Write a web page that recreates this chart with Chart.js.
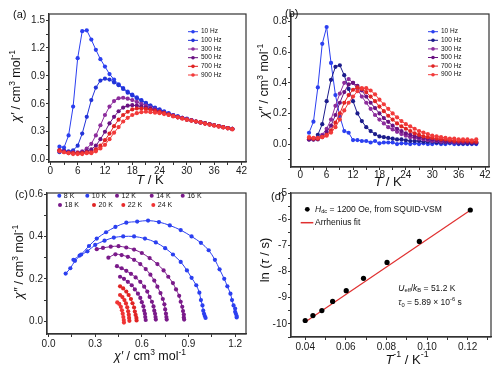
<!DOCTYPE html>
<html>
<head>
<meta charset="utf-8">
<title>ac susceptibility</title>
<script src="https://cdn.jsdelivr.net/npm/chart.js@4.4.1/dist/chart.umd.min.js"></script>
<style>
  body { margin: 0; background: #fff; }
  #fig { position: relative; width: 500px; height: 371px; overflow: hidden; }
  .panel { position: absolute; }
</style>
</head>
<body>
<div id="fig">
  <div class="panel" style="left:0;top:0;width:250px;height:186px"><canvas id="graficaA"></canvas></div>
  <div class="panel" style="left:250px;top:0;width:250px;height:186px"><canvas id="graficaB"></canvas></div>
  <div class="panel" style="left:0;top:186px;width:250px;height:185px"><canvas id="graficaC"></canvas></div>
  <div class="panel" style="left:250px;top:186px;width:250px;height:185px"><canvas id="graficaD"></canvas></div>
</div>
<script>
// temperaturas (K) de las medidas ac
const temps = [2,3,4,5,6,7,8,9,10,11,12,13,14,15,16,17,18,19,20,21,22,23,24,25,26,27,28,29,30,31,32,33,34,35,36,37,38,39,40];
const freqLabels = ['10 Hz', '100 Hz', '300 Hz', '500 Hz', '700 Hz', '900 Hz'];

// chi' (a)
const chiP10  = [0.14,0.13,0.26,0.57,1.09,1.38,1.39,1.29,1.18, 1.08,1.00,0.92,0.86,0.81,0.77,0.73,0.70,0.67,0.64, 0.61,0.58,0.56,0.54,0.52,0.50,0.48,0.465,0.45,0.44, 0.425,0.41,0.40,0.39,0.38,0.37,0.36,0.35,0.34,0.33];
const chiP100 = [0.08,0.10,0.09,0.10,0.15,0.28,0.46,0.64,0.775, 0.85,0.87,0.86,0.83,0.80,0.76,0.72,0.69,0.66,0.635, 0.605,0.58,0.555,0.535,0.515,0.495,0.48,0.465,0.45,0.435, 0.425,0.41,0.40,0.39,0.38,0.37,0.36,0.35,0.34,0.33];
const chiP300 = [0.10,0.09,0.08,0.08,0.08,0.09,0.12,0.17,0.26, 0.37,0.48,0.57,0.63,0.66,0.665,0.655,0.64,0.62,0.60, 0.58,0.56,0.54,0.52,0.505,0.49,0.475,0.46,0.45,0.435, 0.425,0.41,0.40,0.39,0.38,0.37,0.36,0.35,0.34,0.33];
const chiP500 = [0.10,0.09,0.08,0.07,0.07,0.08,0.09,0.11,0.15, 0.22,0.30,0.39,0.46,0.52,0.56,0.58,0.585,0.58,0.57, 0.56,0.545,0.53,0.515,0.50,0.485,0.47,0.455,0.445,0.43, 0.42,0.41,0.40,0.39,0.38,0.37,0.36,0.35,0.34,0.33];
const chiP700 = [0.10,0.08,0.07,0.07,0.07,0.07,0.08,0.08,0.11, 0.15,0.21,0.28,0.36,0.43,0.48,0.515,0.54,0.55,0.55, 0.545,0.535,0.525,0.51,0.50,0.485,0.47,0.455,0.445,0.43, 0.42,0.41,0.40,0.39,0.38,0.37,0.36,0.35,0.34,0.33];
const chiP900 = [0.09,0.08,0.07,0.06,0.06,0.06,0.07,0.07,0.09, 0.12,0.16,0.22,0.29,0.35,0.41,0.45,0.48,0.50,0.51, 0.515,0.51,0.505,0.50,0.49,0.48,0.465,0.455,0.44,0.43, 0.42,0.41,0.40,0.385,0.375,0.365,0.355,0.345,0.335,0.325];

// chi'' (b)
const chiPP10  = [0.074,0.146,0.37,0.655,0.765,0.53,0.32,0.18,0.085, 0.074,0.026,0.026,0.02,0.02,0.01,0.02,0.005,0.01,0.01, 0.01,0.0,0.005,0.005,0.0,0.005,0.0,0.005,0.0,0.0, 0.005,0.0,0.0,0.005,0.0,0.0,0.0,0.0,0.0,0.0];
const chiPP100 = [0.03,0.03,0.06,0.13,0.28,0.42,0.505,0.515,0.45, 0.36,0.28,0.20,0.15,0.11,0.085,0.065,0.05,0.045,0.04, 0.035,0.03,0.03,0.025,0.02,0.02,0.02,0.015,0.015,0.015, 0.01,0.01,0.01,0.01,0.01,0.005,0.005,0.005,0.005,0.005];
const chiPP300 = [0.03,0.03,0.04,0.06,0.10,0.16,0.25,0.33,0.40, 0.425,0.40,0.36,0.31,0.27,0.23,0.19,0.16,0.135,0.11, 0.095,0.08,0.065,0.055,0.045,0.04,0.035,0.03,0.025,0.02, 0.02,0.015,0.015,0.015,0.01,0.01,0.01,0.01,0.01,0.01];
const chiPP500 = [0.03,0.03,0.03,0.05,0.08,0.12,0.19,0.27,0.34, 0.39,0.40,0.38,0.35,0.31,0.27,0.235,0.20,0.17,0.145, 0.12,0.10,0.085,0.07,0.06,0.05,0.045,0.04,0.035,0.03, 0.025,0.025,0.02,0.02,0.015,0.015,0.015,0.01,0.01,0.01];
const chiPP700 = [0.04,0.035,0.035,0.045,0.06,0.09,0.14,0.20,0.27, 0.32,0.355,0.37,0.36,0.34,0.31,0.28,0.245,0.215,0.185, 0.16,0.135,0.115,0.10,0.085,0.07,0.06,0.05,0.045,0.04, 0.035,0.03,0.03,0.025,0.02,0.02,0.02,0.02,0.015,0.015];
const chiPP900 = [0.045,0.04,0.04,0.045,0.055,0.075,0.11,0.16,0.22, 0.27,0.31,0.345,0.365,0.365,0.35,0.325,0.29,0.26,0.23, 0.20,0.175,0.15,0.13,0.115,0.10,0.085,0.075,0.065,0.055, 0.05,0.045,0.04,0.035,0.035,0.03,0.03,0.03,0.025,0.03];

// Cole-Cole (c): [chi', chi'']
const coleLabels = ['8 K', '10 K', '12 K', '14 K', '16 K', '18 K', '20 K', '22 K', '24 K'];
const cole8K  = [[0.11,0.225],[0.14,0.25],[0.17,0.285],[0.21,0.315],[0.26,0.355],[0.31,0.39],[0.37,0.42],[0.43,0.445],[0.50,0.465],[0.57,0.47],[0.64,0.475],[0.71,0.468],[0.78,0.452],[0.85,0.43],[0.92,0.40],[0.98,0.37],[1.03,0.335],[1.07,0.29],[1.10,0.245],[1.13,0.20],[1.15,0.165],[1.17,0.13],[1.18,0.10],[1.19,0.075],[1.20,0.06],[1.20,0.045],[1.205,0.035],[1.21,0.025],[1.21,0.018]];
const cole10K = [[0.16,0.29],[0.20,0.31],[0.25,0.33],[0.30,0.36],[0.36,0.38],[0.42,0.395],[0.48,0.40],[0.55,0.40],[0.62,0.39],[0.69,0.372],[0.75,0.345],[0.80,0.315],[0.85,0.28],[0.89,0.24],[0.92,0.205],[0.95,0.17],[0.97,0.135],[0.98,0.10],[0.99,0.075],[0.995,0.05],[1.0,0.035],[1.005,0.025],[1.01,0.016]];
const cole12K = [[0.31,0.34],[0.35,0.346],[0.40,0.352],[0.45,0.354],[0.50,0.348],[0.55,0.338],[0.60,0.322],[0.65,0.298],[0.70,0.27],[0.74,0.24],[0.77,0.21],[0.80,0.18],[0.82,0.15],[0.84,0.12],[0.85,0.092],[0.86,0.068],[0.865,0.048],[0.87,0.032],[0.87,0.018],[0.872,0.008]];
const cole14K = [[0.385,0.30],[0.43,0.316],[0.47,0.312],[0.51,0.304],[0.55,0.29],[0.59,0.27],[0.625,0.246],[0.655,0.22],[0.68,0.192],[0.70,0.163],[0.72,0.133],[0.735,0.105],[0.745,0.08],[0.75,0.056],[0.755,0.036],[0.758,0.02],[0.76,0.008]];
const cole16K = [[0.44,0.26],[0.47,0.25],[0.50,0.238],[0.53,0.224],[0.56,0.207],[0.59,0.186],[0.615,0.163],[0.635,0.14],[0.65,0.115],[0.665,0.092],[0.675,0.07],[0.68,0.05],[0.685,0.035],[0.688,0.02],[0.69,0.008]];
const cole18K = [[0.46,0.21],[0.485,0.20],[0.51,0.186],[0.535,0.17],[0.555,0.15],[0.575,0.13],[0.59,0.11],[0.60,0.09],[0.61,0.07],[0.615,0.05],[0.62,0.035],[0.622,0.02],[0.625,0.006]];
const cole20K = [[0.46,0.165],[0.48,0.155],[0.50,0.14],[0.515,0.124],[0.53,0.105],[0.54,0.085],[0.55,0.065],[0.555,0.046],[0.56,0.03],[0.565,0.016],[0.566,0.004]];
const cole22K = [[0.46,0.124],[0.475,0.114],[0.488,0.10],[0.498,0.084],[0.506,0.066],[0.512,0.047],[0.516,0.031],[0.518,0.016],[0.52,0.002]];
const cole24K = [[0.442,0.089],[0.455,0.082],[0.465,0.068],[0.472,0.052],[0.477,0.036],[0.481,0.02],[0.484,0.006],[0.485,-0.006]];

// Arrhenius (d)
const invT = [0.040, 0.0438, 0.0482, 0.0535, 0.0602, 0.0687, 0.0803, 0.0962, 0.1213];
const lnTau = [-9.87, -9.68, -9.49, -9.14, -8.73, -8.26, -7.65, -6.85, -5.65];
const fitInvT = [0.040, 0.1213];
const fitLnTau = [-9.93, -5.66];

// ticks
const aTempTicks = [0, 6, 12, 18, 24, 30, 36, 42];
const aChiTicks = [0, 0.3, 0.6, 0.9, 1.2, 1.5];
const bChiTicks = [0, 0.2, 0.4, 0.6, 0.8];
const cXTicks = [0, 0.3, 0.6, 0.9, 1.2];
const cYTicks = [0, 0.2, 0.4, 0.6];
const dXTicks = [0.04, 0.06, 0.08, 0.10, 0.12];
const dYTicks = [-10, -9, -8, -7, -6, -5];

const FONT = '"Liberation Sans", Arial, Helvetica, sans-serif';
const colFrecA = ['#2b3ff0', '#2233d8', '#8c2c9c', '#6a1282', '#e02424', '#f23a3a'];
const colFrecB = ['#2b3ff0', '#1c1c8c', '#8c2c9c', '#6a1282', '#e02424', '#f23a3a'];
const colCole = ['#2b3ff0', '#2b3ff0', '#7a1a8a', '#7a1a8a', '#7a1a8a', '#7a1a8a', '#e02424', '#e82c2c', '#f03434'];

function eje(pos, min, max, majors, digits, size, pad) {
	const step = majors[1] - majors[0];
	const marks = [];
	for (let i = 0; i < majors.length; i++) {
		marks.push(majors[i]);
		if (i < majors.length - 1) marks.push(majors[i] + step / 2);
	}
	if (majors[0] - step / 2 >= min - 1e-9) marks.unshift(majors[0] - step / 2);
	if (majors[majors.length - 1] + step / 2 <= max + 1e-9) marks.push(majors[majors.length - 1] + step / 2);
	return {
		type: 'linear', position: pos, min: min, max: max,
		afterBuildTicks: s => { s.ticks = marks.map(v => ({ value: v })); },
		afterFit: s => { if (pos === 'left') s.width = size; else s.height = size; },
		ticks: {
			autoSkip: false, maxRotation: 0, padding: pad === undefined ? 1 : pad, color: '#1a1a1a',
			font: { family: FONT, size: 10 },
			callback: v => majors.some(m => Math.abs(m - v) < 1e-9) ? v.toFixed(digits) : ''
		},
		grid: { drawOnChartArea: false, drawTicks: true, tickLength: 3, color: '#333', lineWidth: 1 },
		border: { display: true, color: '#333', width: 1.2 }
	};
}

// texto con cursiva, super y subindices: [texto, 'i^_']
function texto(ctx, parts, x, y, size, rot, align) {
	ctx.save();
	ctx.translate(x, y);
	if (rot) ctx.rotate(-Math.PI / 2);
	ctx.fillStyle = '#111';
	ctx.textBaseline = 'middle';
	ctx.textAlign = 'left';
	const f = p => {
		const fl = p[1] || '';
		return (fl.includes('i') ? 'italic ' : '') + (/[\^_]/.test(fl) ? size * 0.68 : size) + 'px ' + FONT;
	};
	let w = 0;
	parts.forEach(p => { ctx.font = f(p); w += ctx.measureText(p[0]).width; });
	let cx = align === 'left' ? 0 : -w / 2;
	parts.forEach(p => {
		const fl = p[1] || '';
		ctx.font = f(p);
		const dy = fl.includes('^') ? -size * 0.38 : fl.includes('_') ? size * 0.3 : 0;
		ctx.fillText(p[0], cx, dy);
		cx += ctx.measureText(p[0]).width;
	});
	ctx.restore();
}

function leyendaFrec(ctx, chart, x0, x1, xt, y0, dy) {
	chart.data.datasets.forEach((ds, i) => {
		const y = y0 + i * dy;
		ctx.strokeStyle = ds.borderColor;
		ctx.lineWidth = 1;
		ctx.beginPath(); ctx.moveTo(x0, y); ctx.lineTo(x1, y); ctx.stroke();
		ctx.fillStyle = ds.borderColor;
		ctx.beginPath(); ctx.arc((x0 + x1) / 2, y, 1.8, 0, Math.PI * 2); ctx.fill();
		texto(ctx, [[ds.label]], xt, y, 6.5, false, 'left');
	});
}

function grafica(id, datasets, scales, pad, dibujar) {
	return new Chart(document.getElementById(id), {
		type: 'scatter',
		data: { datasets: datasets },
		options: {
			responsive: true, maintainAspectRatio: false, animation: false, events: [],
			layout: { padding: pad },
			scales: scales,
			plugins: { legend: { display: false }, tooltip: { enabled: false } }
		},
		plugins: [{
			id: 'marco',
			afterDraw(chart) {
				const ctx = chart.ctx, a = chart.chartArea;
				ctx.save();
				ctx.strokeStyle = '#333';
				ctx.lineWidth = 1.2;
				ctx.strokeRect(a.left, a.top, a.right - a.left, a.bottom - a.top);
				dibujar(ctx, chart);
				ctx.restore();
			}
		}]
	});
}

function seriesFrec(lista, colores) {
	return lista.map((arr, i) => ({
		label: freqLabels[i],
		data: temps.map((t, j) => ({ x: t, y: arr[j] })),
		borderColor: colores[i], backgroundColor: colores[i],
		borderWidth: 1, pointRadius: 2.1, pointBorderWidth: 0,
		showLine: true, order: -i
	}));
}

// (a) chi'
grafica('graficaA',
	seriesFrec([chiP10, chiP100, chiP300, chiP500, chiP700, chiP900], colFrecA),
	{ x: eje('bottom', -0.3, 43, aTempTicks, 0, 24, 0), y: eje('left', -0.025, 1.565, aChiTicks, 1, 49) },
	{ top: 14, right: 2, left: 0, bottom: 0 },
	(ctx, chart) => {
		texto(ctx, [['(a)']], 13, 15, 11, false, 'left');
		texto(ctx, [['T', 'i'], [' / K']], 150, 180.5, 13);
		texto(ctx, [['χ′', 'i'], [' / cm'], ['3', '^'], [' mol'], ['-1', '^']], 17, 86, 12.5, true);
		leyendaFrec(ctx, chart, 188, 198, 201, 31.7, 8.66);
	});

// (b) chi''
grafica('graficaB',
	seriesFrec([chiPP10, chiPP100, chiPP300, chiPP500, chiPP700, chiPP900], colFrecB),
	{ x: eje('bottom', -2.1, 42.9, aTempTicks, 0, 19, -1), y: eje('left', -0.15, 0.85, bChiTicks, 1, 41) },
	{ top: 14, right: 11, left: 0, bottom: 0 },
	(ctx, chart) => {
		texto(ctx, [['(b)']], 35, 14, 11, false, 'left');
		texto(ctx, [['T', 'i'], [' / K']], 138, 182, 13);
		texto(ctx, [['χ″', 'i'], [' / cm'], ['3', '^'], [' mol'], ['-1', '^']], 15, 81, 12.5, true);
		leyendaFrec(ctx, chart, 178, 188, 191, 31.7, 8.6);
	});

// (c) Cole-Cole
const coleSets = [cole8K, cole10K, cole12K, cole14K, cole16K, cole18K, cole20K, cole22K, cole24K];
grafica('graficaC',
	coleSets.map((arr, i) => ({
		label: coleLabels[i],
		data: arr.map(p => ({ x: p[0], y: p[1] })),
		borderColor: colCole[i], backgroundColor: colCole[i],
		borderWidth: 1, pointRadius: 2.1, pointBorderWidth: 0,
		showLine: true, tension: 0.35, order: -i
	})),
	{ x: eje('bottom', -0.01, 1.27, cXTicks, 1, 37), y: eje('left', -0.06, 0.605, cYTicks, 1, 47) },
	{ top: 1, right: 3, left: 0, bottom: 0 },
	(ctx, chart) => {
		texto(ctx, [['(c)']], 15, 9, 11, false, 'left');
		texto(ctx, [['χ′', 'i'], [' / cm'], ['3', '^'], [' mol'], ['-1', '^']], 150, 171, 12.5);
		texto(ctx, [['χ″', 'i'], [' / cm'], ['3', '^'], [' mol'], ['-1', '^']], 20, 76, 12.5, true);
		const pos = [[59.3, 9.7], [87.3, 9.7], [117, 9.7], [151.7, 9.7], [182.7, 9.7],
			[60, 19], [94, 19], [123.3, 19], [153.3, 19]];
		chart.data.datasets.forEach((ds, i) => {
			ctx.fillStyle = ds.borderColor;
			ctx.beginPath(); ctx.arc(pos[i][0], pos[i][1], 2, 0, Math.PI * 2); ctx.fill();
			texto(ctx, [[ds.label]], pos[i][0] + 4.5, pos[i][1], 7, false, 'left');
		});
	});

// (d) Arrhenius
grafica('graficaD',
	[
		{
			label: 'SQUID-VSM', data: invT.map((v, i) => ({ x: v, y: lnTau[i] })),
			backgroundColor: '#000', borderColor: '#000', pointRadius: 2.6, pointBorderWidth: 0,
			showLine: false, order: 0
		},
		{
			label: 'Arrhenius fit', data: fitInvT.map((v, i) => ({ x: v, y: fitLnTau[i] })),
			borderColor: '#e03030', backgroundColor: '#e03030', borderWidth: 1.2, pointRadius: 0,
			showLine: true, order: 1
		}
	],
	{ x: eje('bottom', 0.033, 0.1315, dXTicks, 2, 34), y: eje('left', -10.5, -5, dYTicks, 0, 41) },
	{ top: 6, right: 9, left: 0, bottom: 0 },
	(ctx, chart) => {
		texto(ctx, [['(d)']], 21, 11, 11, false, 'left');
		texto(ctx, [['T', 'i'], ['-1', '^'], [' / K'], ['-1', '^']], 157, 174, 13);
		texto(ctx, [['ln ('], ['τ', 'i'], [' / s)']], 15, 74, 13, true);
		ctx.fillStyle = '#000';
		ctx.beginPath(); ctx.arc(57.3, 23.3, 2.4, 0, Math.PI * 2); ctx.fill();
		texto(ctx, [['H', 'i'], ['dc', '_'], [' = 1200 Oe, from SQUID-VSM']], 65, 23.3, 8.5, false, 'left');
		ctx.strokeStyle = '#e03030'; ctx.lineWidth = 1.5;
		ctx.beginPath(); ctx.moveTo(50.7, 36.7); ctx.lineTo(63.3, 36.7); ctx.stroke();
		texto(ctx, [['Arrhenius fit']], 65, 36.7, 8.5, false, 'left');
		texto(ctx, [['U', 'i'], ['eff', '_'], ['/'], ['k', 'i'], ['B', '_'], [' = 51.2 K']], 148.3, 102.3, 8.5, false, 'left');
		texto(ctx, [['τ', 'i'], ['0', '_'], [' = 5.89 × 10'], ['-6', '^'], [' s']], 148.3, 116.7, 8.5, false, 'left');
	});
</script>
</body>
</html>
